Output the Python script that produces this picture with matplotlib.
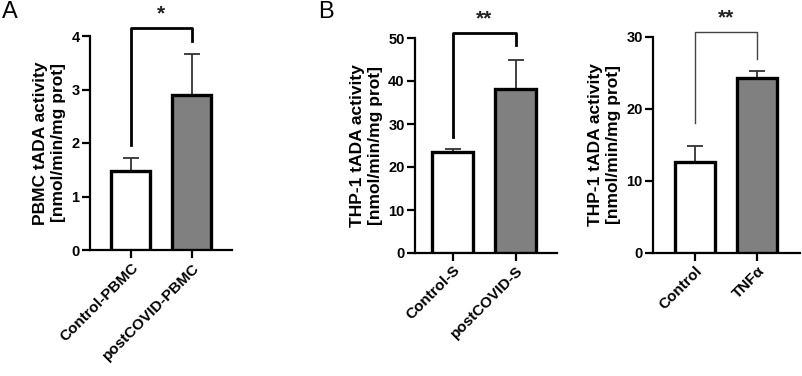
import matplotlib.pyplot as plt

plt.rcParams['font.family'] = ['Liberation Sans', 'DejaVu Sans']

# panel A
a_groups = ['Control-PBMC', 'postCOVID-PBMC']
a_means = [1.48, 2.90]
a_err = [0.24, 0.76]

# panel B, left
b1_groups = ['Control-S', 'postCOVID-S']
b1_means = [23.6, 38.2]
b1_err = [0.6, 6.8]

# panel B, right
b2_groups = ['Control', 'TNFα']
b2_means = [12.6, 24.3]
b2_err = [2.3, 1.0]

W, H = 803, 376


def panel(fig, rect, groups, means, errs, ylim, ystep, xlim, width, ylabel,
          star, br_y, br_legs, br_lw, br_col):
    l, r, top, bot = rect
    ax = fig.add_axes([l / W, 1 - bot / H, (r - l) / W, (bot - top) / H])
    x = [0, 1]
    ax.bar(x, means, width=width, color=['white', '#808080'],
           edgecolor='black', linewidth=2.4, zorder=3)
    ax.errorbar(x, means, yerr=[[0, 0], errs], fmt='none', ecolor='#333333',
                elinewidth=1.3, capsize=6, capthick=1.3, zorder=2)
    ax.plot([0, 0, 1, 1], [br_legs[0], br_y, br_y, br_legs[1]],
            color=br_col, lw=br_lw, clip_on=False, zorder=4)
    ax.text(0.5, br_y + ylim * 0.02, star, ha='center', va='bottom',
            fontsize=15, fontweight='bold', color='#222222')
    ax.set_xlim(*xlim)
    ax.set_ylim(0, ylim)
    ax.set_yticks(range(0, int(ylim) + 1, ystep))
    ax.set_xticks(x)
    ax.set_xticklabels(groups, rotation=45, ha='right', rotation_mode='anchor',
                       fontsize=11, fontweight='bold')
    for t in ax.get_yticklabels():
        t.set_fontweight('bold')
        t.set_fontsize(10.5)
    ax.set_ylabel(ylabel, fontsize=12.5, fontweight='bold', linespacing=1.25,
                  labelpad=4)
    for s in ['top', 'right']:
        ax.spines[s].set_visible(False)
    for s in ['left', 'bottom']:
        ax.spines[s].set_linewidth(1.6)
    ax.tick_params(width=1.6, length=6, pad=1.5)
    return ax


fig = plt.figure(figsize=(W / 100, H / 100), dpi=100)

panel(fig, (90, 232, 36, 250), a_groups, a_means, a_err, 4, 1,
      (-0.67, 1.66), 0.64, 'PBMC tADA activity\n[nmol/min/mg prot]',
      '*', 4.15, (1.96, 3.9), 2.0, 'black')
panel(fig, (415, 557, 38, 253), b1_groups, b1_means, b1_err, 50, 10,
      (-0.6, 1.65), 0.65, 'THP-1 tADA activity\n[nmol/min/mg prot]',
      '**', 51.2, (27, 48.4), 2.0, 'black')
panel(fig, (653, 800, 37, 253), b2_groups, b2_means, b2_err, 30, 10,
      (-0.68, 1.69), 0.65, 'THP-1 tADA activity\n[nmol/min/mg prot]',
      '**', 30.7, (18, 27), 1.0, '#444444')

fig.text(2 / W, 1 - 1 / H, 'A', fontsize=17, va='top', ha='left')
fig.text(318 / W, 1 - 1 / H, 'B', fontsize=17, va='top', ha='left')

fig.savefig('out.png', dpi=100)
